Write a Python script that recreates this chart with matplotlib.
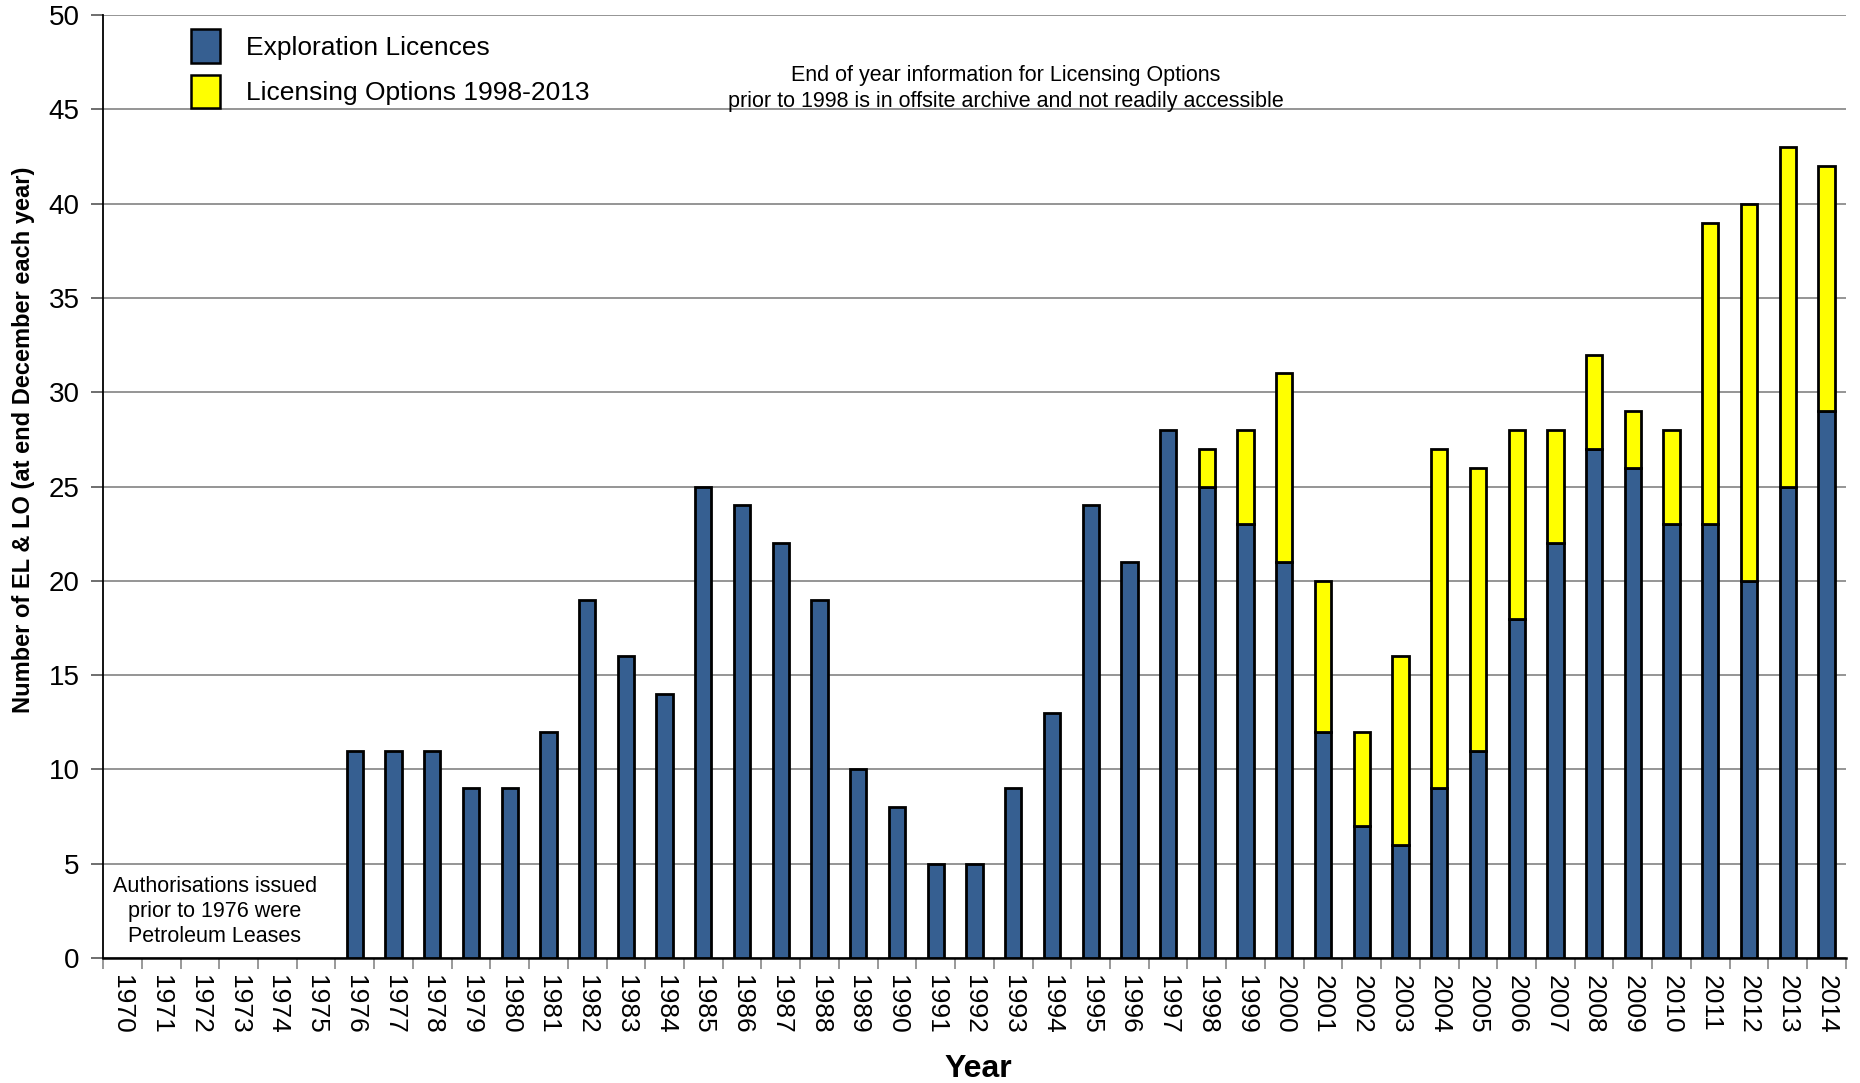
import numpy as np
import matplotlib.pyplot as plt
from matplotlib.patches import Patch

plt.rcParams['font.family'] = ['Liberation Sans', 'DejaVu Sans']

years = list(range(1970, 2015))
exploration = [0, 0, 0, 0, 0, 0, 11, 11, 11, 9, 9, 12, 19, 16, 14, 25, 24, 22, 19, 10,
               8, 5, 5, 9, 13, 24, 21, 28, 25, 23, 21, 12, 7, 6, 9, 11, 18, 22, 27, 26,
               23, 23, 20, 25, 29]
options = [0] * 28 + [2, 5, 10, 8, 5, 10, 18, 15, 10, 6, 5, 3, 5, 16, 20, 18, 13]

blue = '#365F91'
yellow = '#FFFF00'

fig = plt.figure(figsize=(18.6, 10.83), dpi=100)
ax = fig.add_axes([0.0554, 0.1154, 0.937, 0.8706])

x = np.arange(len(years))
el = np.array(exploration, dtype=float)
lo = np.array(options, dtype=float)
# no bar at all where there is no value
m1 = el > 0
m2 = lo > 0
ax.bar(x[m1], el[m1], width=0.42, color=blue, edgecolor='black', linewidth=2, zorder=3)
ax.bar(x[m2], lo[m2], bottom=el[m2], width=0.42, color=yellow, edgecolor='black',
       linewidth=2, zorder=3)

ax.set_xlim(-0.5, len(years) - 0.5)
ax.set_ylim(0, 50)
ax.set_yticks(range(0, 51, 5))
ax.yaxis.grid(True, color='#8c8c8c', linewidth=1.3, zorder=0)
ax.tick_params(axis='y', labelsize=20, length=9, width=1.2, color='#555555', pad=8)

ax.set_xticks(x)
ax.set_xticklabels([str(y) for y in years], rotation=-90, fontsize=19)
ax.tick_params(axis='x', which='major', length=0, pad=12)
ax.set_xticks(np.arange(-0.5, len(years), 1), minor=True)
ax.tick_params(axis='x', which='minor', length=8, width=1.2, color='#888888')

for s in ['top', 'right']:
    ax.spines[s].set_visible(False)
ax.spines['left'].set_linewidth(1.3)
ax.spines['bottom'].set_linewidth(1.8)

ax.set_ylabel('Number of EL & LO (at end December each year)', fontsize=17,
              fontweight='bold', labelpad=10, y=0.55)
ax.set_xlabel('Year', fontsize=23, fontweight='bold', labelpad=15, x=0.502)

handles = [Patch(facecolor=blue, edgecolor='black', linewidth=1.8),
           Patch(facecolor=yellow, edgecolor='black', linewidth=1.8)]
fig.legend(handles, ['Exploration Licences', 'Licensing Options 1998-2013'],
           loc='upper left', bbox_to_anchor=(0.1027, 0.9728), frameon=False, fontsize=19,
           borderpad=0, borderaxespad=0, handlelength=1.08, handleheight=1.55,
           labelspacing=0.48, handletextpad=1.0)

ax.text(0.518, 0.922, 'End of year information for Licensing Options\n'
        'prior to 1998 is in offsite archive and not readily accessible',
        transform=ax.transAxes, ha='center', va='center', fontsize=15.5,
        linespacing=1.3)

ax.text(0.064, 0.049, 'Authorisations issued\nprior to 1976 were\nPetroleum Leases',
        transform=ax.transAxes, ha='center', va='center', fontsize=15.5,
        linespacing=1.25, zorder=4)

fig.savefig('out.png', dpi=100)
